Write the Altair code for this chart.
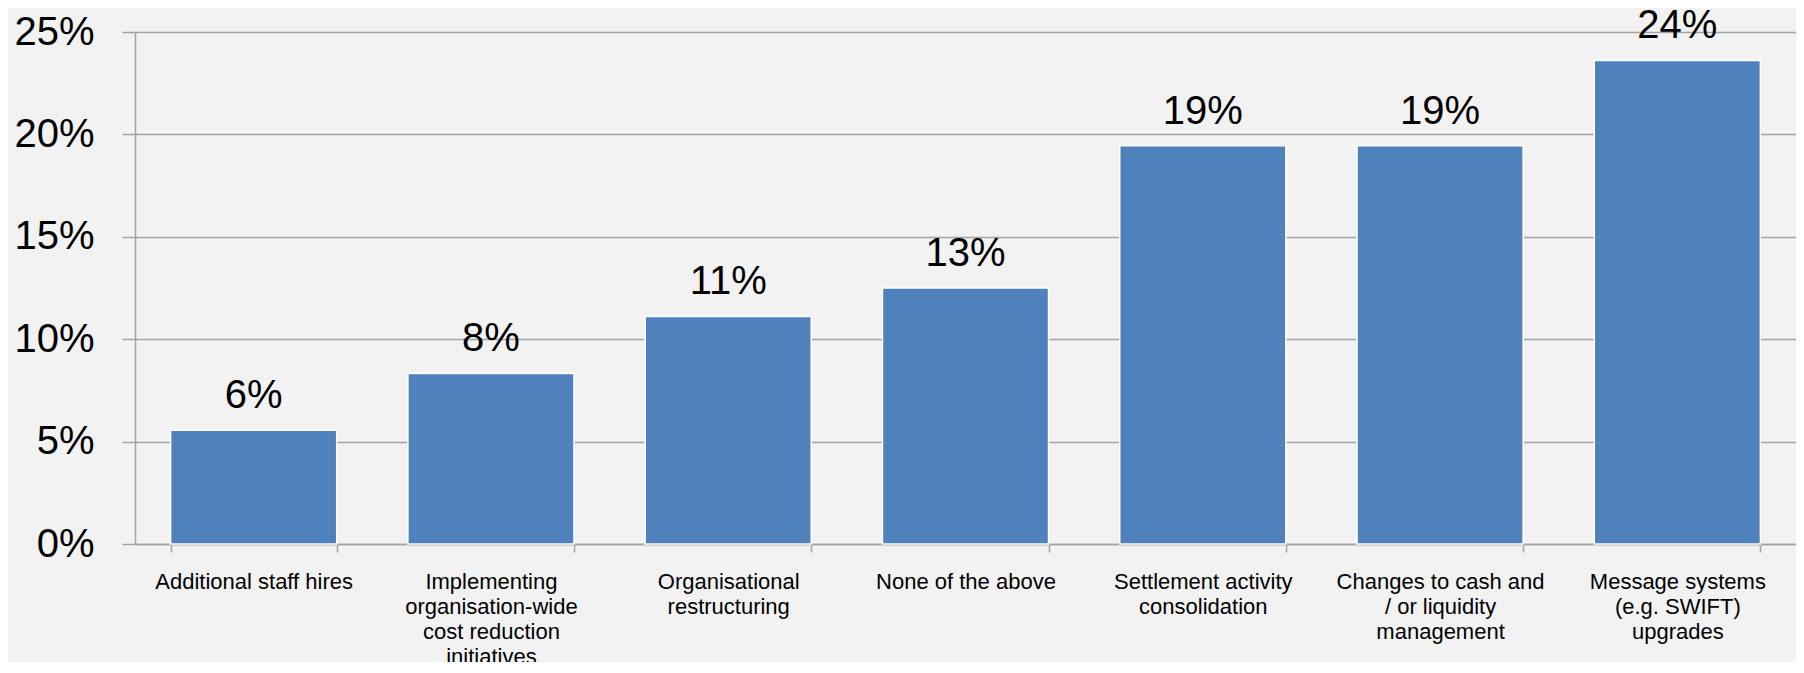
import altair as alt
import pandas as pd

categories = [
    "Additional staff hires",
    "Implementing\norganisation-wide\ncost reduction\ninitiatives",
    "Organisational\nrestructuring",
    "None of the above",
    "Settlement activity\nconsolidation",
    "Changes to cash and\n/ or liquidity\nmanagement",
    "Message systems\n(e.g. SWIFT)\nupgrades",
]
values = [0.0556, 0.0833, 0.1111, 0.125, 0.1944, 0.1944, 0.2361]
y_ticks = [0, 0.05, 0.10, 0.15, 0.20, 0.25]

df = pd.DataFrame({"cat": categories, "value": values})

FONT = "Liberation Sans"
GRID = "#a3a3a3"

base = alt.Chart(df).encode(
    x=alt.X(
        "cat:N",
        sort=categories,
        scale=alt.Scale(paddingInner=0.3, paddingOuter=0.15),
        axis=alt.Axis(
            title=None,
            labelAngle=0,
            labelFont=FONT,
            labelFontSize=22,
            labelLineHeight=25,
            labelColor="black",
            labelExpr="split(datum.label, '\\n')",
            labelPadding=19,
            labelLimit=400,
            domainColor=GRID,
            domainWidth=1.5,
            tickColor=GRID,
            tickWidth=1.5,
            tickSize=8,
            tickBand="extent",
            grid=False,
        ),
    ),
    y=alt.Y(
        "value:Q",
        scale=alt.Scale(domain=[0, 0.25]),
        axis=alt.Axis(
            title=None,
            values=y_ticks,
            format=".0%",
            labelFont=FONT,
            labelFontSize=40,
            labelColor="black",
            labelPadding=28,
            tickSize=13,
            tickColor=GRID,
            tickWidth=1.5,
            domainColor=GRID,
            domainWidth=1.5,
            gridColor=GRID,
            gridWidth=1.5,
        ),
    ),
)

bars = base.mark_bar(color="#4f81bd", stroke="white", strokeWidth=1.5)
labels = base.mark_text(
    dy=-22, baseline="alphabetic", fontSize=40, font=FONT, color="black"
).encode(text=alt.Text("value:Q", format=".0%"))

chart = (
    alt.layer(bars, labels)
    .properties(
        width=1661,
        height=512,
        background="#f2f2f2",
        padding={"left": 127, "top": 24, "right": 0, "bottom": 118},
        autosize=alt.AutoSizeParams(type="none"),
    )
    .configure_view(stroke=None)
)

chart.save("out.html", embed_options={"renderer": "svg", "actions": False})
